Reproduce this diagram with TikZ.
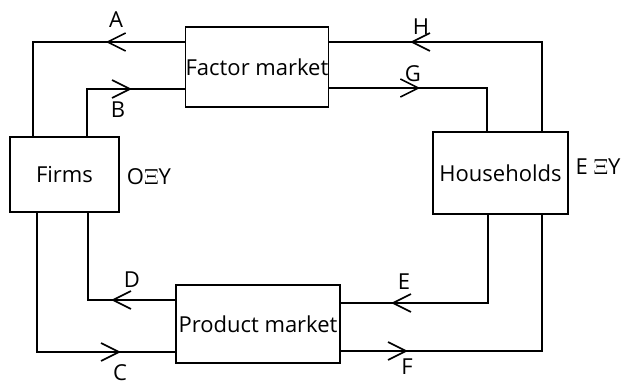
\documentclass[tikz,border=0pt]{standalone}
\usepackage{fontspec}
\setmainfont{Open Sans}
\usetikzlibrary{arrows.meta,decorations.markings}
\tikzset{
  sector/.style={draw,line width=0.8pt,inner sep=0pt,font=\fontsize{11}{13}\selectfont},
  flow/.style={line width=0.8pt,postaction={decorate,decoration={markings,
      mark=at position #1 with {\arrow{Straight Barb[length=9pt,width=9pt,line width=0.8pt]}}}}},
  tag/.style={inner sep=0pt,font=\fontsize{11}{13}\selectfont}
}
\begin{document}
\begin{tikzpicture}[x=0.5pt,y=-0.5pt]
\useasboundingbox (0,0) rectangle (621,385);
% the four sectors
\node[sector,minimum width=54.5pt,minimum height=37.5pt] (firms) at (64.5,174.5) {Firms};
\node[sector,minimum width=71pt,minimum height=40pt] (factor) at (257,67) {Factor market};
\node[sector,minimum width=67.5pt,minimum height=41pt] (house) at (500.5,173) {Households};
\node[sector,minimum width=82pt,minimum height=39pt] (product) at (258,324) {Product market};
% corners of the flows
\coordinate (a1) at (33,42);
\coordinate (b1) at (87,89);
\coordinate (h1) at (542,42);
\coordinate (g1) at (487,88);
\coordinate (d1) at (88,300);
\coordinate (c1) at (37,352);
\coordinate (e1) at (488,303);
\coordinate (f1) at (542,351);
% flows
\draw[flow=39.5pt] (a1 -| factor.west) -- (a1) -- (a1 |- firms.north);
\draw[flow=46pt] (b1 |- firms.north) -- (b1) -- (b1 -| factor.west);
\draw[flow=110.5pt] (h1 |- house.north) -- (h1) -- (h1 -| factor.east);
\draw[flow=45.5pt] (g1 -| factor.east) -- (g1) -- (g1 |- house.north);
\draw[flow=32pt] (d1 -| product.west) -- (d1) -- (d1 |- firms.south);
\draw[flow=111.5pt] (c1 |- firms.south) -- (c1) -- (c1 -| product.west);
\draw[flow=92.5pt] (e1 |- house.south) -- (e1) -- (e1 -| product.east);
\draw[flow=33.5pt] (f1 -| product.east) -- (f1) -- (f1 |- house.south);
% labels
\node[tag] (lA) at (116,20) {A};
\node[tag] (lB) at (118,110) {B};
\node[tag] (lH) at (421,27) {H};
\node[tag] (lG) at (413,74) {G};
\node[tag] (lD) at (132,280) {D};
\node[tag] (lC) at (120,373) {C};
\node[tag] (lE) at (404,282) {E};
\node[tag] (lF) at (407,367) {F};
\node[tag] (lO) at (149,177) {O$\Xi$Y};
\node[tag] (lEY) at (598,167) {E $\Xi$Y};
\end{tikzpicture}
\end{document}
